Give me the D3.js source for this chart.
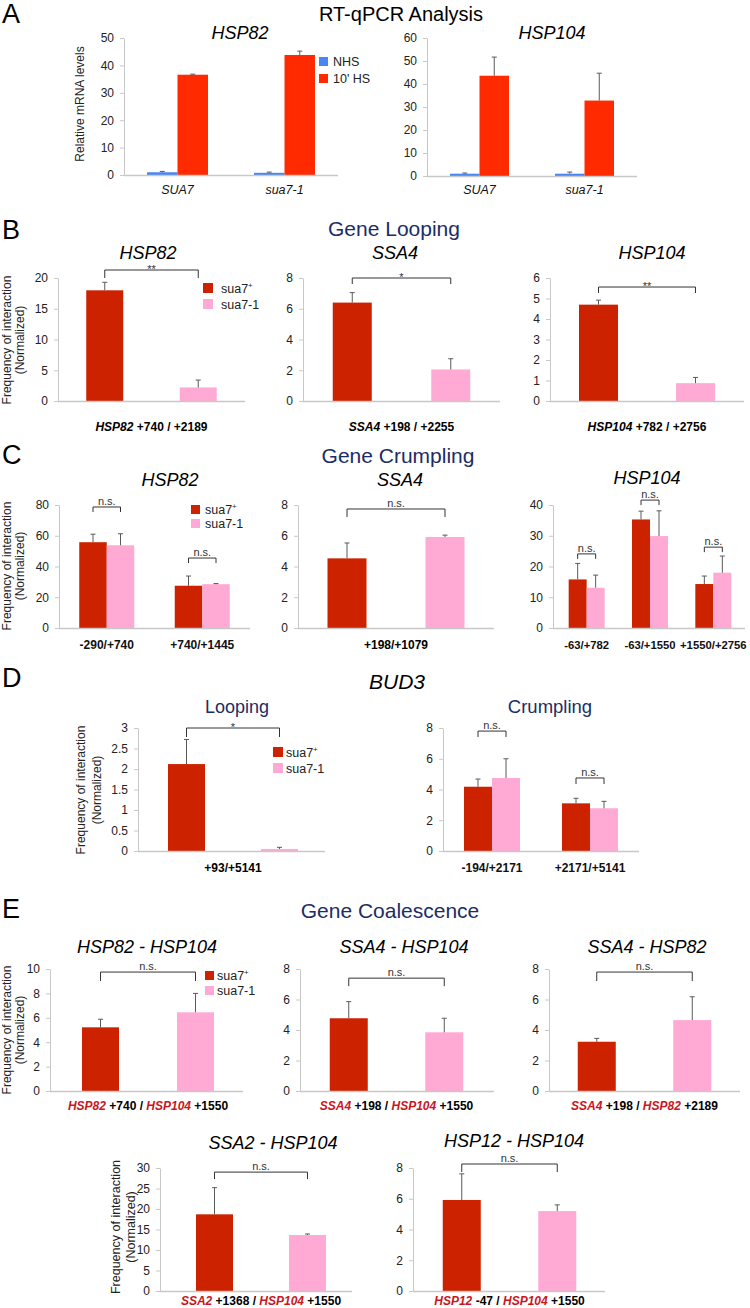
<!DOCTYPE html>
<html><head><meta charset="utf-8">
<script src="https://cdn.jsdelivr.net/npm/d3@7"></script>
<style>body{margin:0;background:#fff} svg{display:block} text{font-family:"Liberation Sans",Arial,Helvetica,sans-serif}</style>
</head><body><svg id="fig" width="750" height="1308"></svg>
<script>
// ================= DATA =================
// A: RT-qPCR
const rtCategories = ["SUA7", "sua7-1"];
const rtSeries = ["NHS", "10' HS"];
const rtHsp82NHS = [1.0, 0.8];
const rtHsp82NHSErr = [0.3, 0.25];
const rtHsp82HS = [36.6, 43.8];
const rtHsp82HSErr = [0.2, 1.4];
const rtHsp104NHS = [1.0, 1.0];
const rtHsp104NHSErr = [0.3, 0.7];
const rtHsp104HS = [43.6, 32.8];
const rtHsp104HSErr = [8.1, 11.9];
const rtHsp82Ticks = [0, 10, 20, 30, 40, 50];
const rtHsp104Ticks = [0, 10, 20, 30, 40, 50, 60];

const strains = ["sua7+", "sua7-1"];

// B: Gene looping (values for [sua7+, sua7-1])
const loopHsp82 = [18.0, 2.2], loopHsp82Err = [1.3, 1.2];
const loopSsa4 = [6.4, 2.05], loopSsa4Err = [0.65, 0.7];
const loopHsp104 = [4.7, 0.87], loopHsp104Err = [0.22, 0.28];
const loopHsp82Ticks = [0, 5, 10, 15, 20];
const loopSsa4Ticks = [0, 2, 4, 6, 8];
const loopHsp104Ticks = [0, 1, 2, 3, 4, 5, 6];

// C: Gene crumpling
const crHsp82Cats = ["-290/+740", "+740/+1445"];
const crHsp82Wt = [55.8, 27.5], crHsp82WtErr = [5.2, 6.3];
const crHsp82Mut = [53.8, 28.5], crHsp82MutErr = [7.5, 0.4];
const crSsa4 = [4.53, 5.92], crSsa4Err = [1.0, 0.12];
const crHsp104Cats = ["-63/+782", "-63/+1550", "+1550/+2756"];
const crHsp104Wt = [15.8, 35.3, 14.3], crHsp104WtErr = [5.2, 2.7, 2.6];
const crHsp104Mut = [13.1, 29.9, 18.0], crHsp104MutErr = [4.1, 8.2, 5.4];
const crHsp82Ticks = [0, 20, 40, 60, 80];
const crSsa4Ticks = [0, 2, 4, 6, 8];
const crHsp104Ticks = [0, 10, 20, 30, 40];

// D: BUD3
const budLoop = [2.12, 0.05], budLoopErr = [0.6, 0.04];
const budCrCats = ["-194/+2171", "+2171/+5141"];
const budCrWt = [4.18, 3.1], budCrWtErr = [0.5, 0.33];
const budCrMut = [4.75, 2.78], budCrMutErr = [1.25, 0.45];
const budLoopTicks = [0, 0.5, 1, 1.5, 2, 2.5, 3];
const budCrTicks = [0, 2, 4, 6, 8];

// E: Gene coalescence
const coHsp82Hsp104 = [5.22, 6.45], coHsp82Hsp104Err = [0.66, 1.55];
const coSsa4Hsp104 = [4.77, 3.85], coSsa4Hsp104Err = [1.09, 0.92];
const coSsa4Hsp82 = [3.23, 4.65], coSsa4Hsp82Err = [0.22, 1.53];
const coSsa2Hsp104 = [18.7, 13.66], coSsa2Hsp104Err = [6.5, 0.25];
const coHsp12Hsp104 = [5.92, 5.2], coHsp12Hsp104Err = [1.7, 0.4];
const co10Ticks = [0, 2, 4, 6, 8, 10];
const co8Ticks = [0, 2, 4, 6, 8];
const co30Ticks = [0, 5, 10, 15, 20, 25, 30];

// Significance labels
const sigLoop = ["**", "*", "**"];
const sigBudLoop = "*";
const ns = "n.s.";

// ================= STYLE =================
const C_NHS = "#4a86f2", C_HS = "#ff2a00";
const C_WT = "#cc2200", C_MUT = "#ffaad4";
const NAVY = "#1c2d66", AXIS = "#c8c8c8", ERR = "#5a5a5a", GENE_RED = "#c8161d";

const svg = d3.select("#fig");

function txt(x, y, s, o = {}) {
  const t = svg.append("text").attr("x", x).attr("y", y).text(s)
    .attr("font-size", o.size || 12).attr("text-anchor", o.anchor || "middle")
    .attr("fill", o.fill || "#000");
  if (o.italic) t.attr("font-style", "italic");
  if (o.bold) t.attr("font-weight", "bold");
  return t;
}
function rich(x, y, parts, size) {
  const t = svg.append("text").attr("x", x).attr("y", y).attr("text-anchor", "middle")
    .attr("font-size", size).attr("font-weight", "bold").attr("fill", "#000");
  parts.forEach(p => {
    const ts = t.append("tspan").text(p.t);
    if (p.gene) ts.attr("font-style", "italic");
    if (p.red) ts.attr("fill", GENE_RED);
  });
}
function ylabel(xs, yc, lines, size) {
  lines.forEach((l, i) => {
    svg.append("text").attr("transform", `translate(${xs[i]},${yc}) rotate(-90)`)
      .attr("text-anchor", "middle").attr("font-size", size).attr("fill", "#222").text(l);
  });
}
function legend(x, y0, gap, sz, tx, items) {
  items.forEach((it, i) => {
    svg.append("rect").attr("x", x).attr("y", y0 + i * gap).attr("width", sz).attr("height", sz).attr("fill", it.color);
    const t = svg.append("text").attr("x", tx).attr("y", y0 + i * gap + sz - 0.5).attr("font-size", 12.5).attr("fill", "#222");
    if (it.sup) {
      t.append("tspan").text(it.label.replace("+", ""));
      t.append("tspan").text("+").attr("font-size", 8).attr("dy", -5);
    } else t.text(it.label);
  });
}

function groupedBars(cats, series) {
  const out = [];
  cats.forEach((c, ci) => series.forEach((s, si) => out.push({ key: c, i: si, n: series.length, v: s.v[ci], e: s.e[ci], color: s.color })));
  return out;
}
function separateBars(vals, errs) {
  return strains.map((s, i) => ({ key: s, i: 0, n: 1, v: vals[i], e: errs[i], color: i === 0 ? C_WT : C_MUT }));
}

function chart(c) {
  const y = d3.scaleLinear().domain([0, c.max]).range([c.yb, c.yt]);
  const band = d3.scaleBand().domain(c.domain).range([c.bx0 ?? c.x0, c.bx1 ?? c.x1]);
  const g = svg.append("g");
  const cx = b => band(b.key) + band.bandwidth() / 2 + (b.i - (b.n - 1) / 2) * c.barW;

  g.selectAll("rect.bar").data(c.bars).join("rect").attr("class", "bar")
    .attr("x", b => cx(b) - c.barW / 2).attr("width", c.barW)
    .attr("y", b => y(b.v)).attr("height", b => c.yb - y(b.v)).attr("fill", b => b.color);

  const eg = g.append("g").attr("stroke", ERR).attr("stroke-width", 1);
  eg.selectAll("line.ev").data(c.bars).join("line").attr("class", "ev")
    .attr("x1", cx).attr("x2", cx).attr("y1", b => y(b.v)).attr("y2", b => y(b.v + b.e));
  eg.selectAll("line.ec").data(c.bars).join("line").attr("class", "ec")
    .attr("x1", b => cx(b) - 2.5).attr("x2", b => cx(b) + 2.5).attr("y1", b => y(b.v + b.e)).attr("y2", b => y(b.v + b.e));

  g.append("line").attr("x1", c.x0).attr("x2", c.x1).attr("y1", c.yb + 0.5).attr("y2", c.yb + 0.5)
    .attr("stroke", AXIS).attr("stroke-width", 1.5);

  const ya = g.append("g").attr("transform", `translate(${c.x0},0)`)
    .call(d3.axisLeft(y).tickValues(c.ticks).tickSize(4).tickSizeOuter(0).tickPadding(6).tickFormat(d3.format("~g")));
  ya.attr("font-family", null);
  ya.select(".domain").attr("stroke", AXIS);
  ya.selectAll(".tick line").attr("stroke", AXIS);
  ya.selectAll(".tick text").attr("font-size", 12).attr("fill", "#222");

  (c.brackets || []).forEach(br => {
    const xa = cx(br.a), xb = cx(br.b), yy = y(br.level), leg = br.leg || 7;
    g.append("path").attr("d", `M${xa},${yy + leg}V${yy}H${xb}V${yy + leg}`)
      .attr("fill", "none").attr("stroke", "#333").attr("stroke-width", 1);
    const star = br.text.startsWith("*");
    g.append("text").attr("x", (xa + xb) / 2).attr("y", star ? yy + 3 : yy - 2)
      .attr("text-anchor", "middle").attr("font-size", 11).attr("fill", "#333").text(br.text);
  });

  if (c.catLabels) {
    c.domain.forEach(d => {
      txt(band(d) + band.bandwidth() / 2, c.labelY, d, { size: c.catSize || 12, italic: c.catItalic, bold: !c.catItalic, fill: "#111" });
    });
  }
  if (c.rich) rich(((c.bx0 ?? c.x0) + (c.bx1 ?? c.x1)) / 2, c.labelY, c.rich, 12);
  return { y, band, cx };
}
const sep = () => ({ a: { key: strains[0], i: 0, n: 1 }, b: { key: strains[1], i: 0, n: 1 } });
const grp = (cat) => ({ a: { key: cat, i: 0, n: 2 }, b: { key: cat, i: 1, n: 2 } });

// ================= PANEL A =================
txt(2, 23, "A", { size: 27, anchor: "start" });
txt(401, 21, "RT-qPCR Analysis", { size: 20 });
txt(240, 39, "HSP82", { size: 18, italic: true });
txt(552, 39, "HSP104", { size: 18, italic: true });
ylabel([84], 104, ["Relative mRNA levels"], 12);
chart({ x0: 124, x1: 338, yb: 175, yt: 38, max: 50, ticks: rtHsp82Ticks, domain: rtCategories, barW: 30.5,
  bars: groupedBars(rtCategories, [{ v: rtHsp82NHS, e: rtHsp82NHSErr, color: C_NHS }, { v: rtHsp82HS, e: rtHsp82HSErr, color: C_HS }]),
  catLabels: true, catItalic: true, catSize: 12.5, labelY: 194 });
chart({ x0: 427, x1: 637, yb: 176, yt: 38, max: 60, ticks: rtHsp104Ticks, domain: rtCategories, barW: 29.5,
  bars: groupedBars(rtCategories, [{ v: rtHsp104NHS, e: rtHsp104NHSErr, color: C_NHS }, { v: rtHsp104HS, e: rtHsp104HSErr, color: C_HS }]),
  catLabels: true, catItalic: true, catSize: 12.5, labelY: 194 });
legend(319, 57, 17, 9, 333, [{ label: rtSeries[0], color: C_NHS }, { label: rtSeries[1], color: C_HS }]);

// ================= PANEL B =================
txt(2, 239, "B", { size: 27, anchor: "start" });
txt(394, 236, "Gene Looping", { size: 21, fill: NAVY });
txt(148, 259, "HSP82", { size: 18, italic: true });
txt(395, 259, "SSA4", { size: 18, italic: true });
txt(652, 259, "HSP104", { size: 18, italic: true });
ylabel([11, 24], 340, ["Frequency of interaction", "(Normalized)"], 12);
chart({ x0: 58, x1: 245, yb: 401, yt: 278, max: 20, ticks: loopHsp82Ticks, domain: strains, barW: 37,
  bars: separateBars(loopHsp82, loopHsp82Err), brackets: [{ ...sep(), level: 21.3, leg: 8, text: sigLoop[0] }],
  rich: [{ t: "HSP82", gene: true }, { t: "  +740 / +2189" }], labelY: 431 });
chart({ x0: 303, x1: 500, yb: 401, yt: 278, max: 8, ticks: loopSsa4Ticks, domain: strains, barW: 39,
  bars: separateBars(loopSsa4, loopSsa4Err), brackets: [{ ...sep(), level: 8.0, leg: 6, text: sigLoop[1] }],
  rich: [{ t: "SSA4", gene: true }, { t: "  +198 / +2255" }], labelY: 431 });
chart({ x0: 550, x1: 744, yb: 401, yt: 278, max: 6, ticks: loopHsp104Ticks, domain: strains, barW: 39,
  bars: separateBars(loopHsp104, loopHsp104Err), brackets: [{ ...sep(), level: 5.56, leg: 6, text: sigLoop[2] }],
  rich: [{ t: "HSP104", gene: true }, { t: " +782 / +2756" }], labelY: 431 });
legend(203, 283, 16, 10, 221, [{ label: strains[0], color: C_WT, sup: true }, { label: strains[1], color: C_MUT }]);

// ================= PANEL C =================
txt(2, 464, "C", { size: 27, anchor: "start" });
txt(398, 463, "Gene Crumpling", { size: 21, fill: NAVY });
txt(170, 486, "HSP82", { size: 18, italic: true });
txt(400, 486, "SSA4", { size: 18, italic: true });
txt(647, 484, "HSP104", { size: 18, italic: true });
ylabel([11, 24], 566, ["Frequency of interaction", "(Normalized)"], 12);
chart({ x0: 59, x1: 250, yb: 628, yt: 505, max: 80, ticks: crHsp82Ticks, domain: crHsp82Cats, barW: 27.5,
  bars: groupedBars(crHsp82Cats, [{ v: crHsp82Wt, e: crHsp82WtErr, color: C_WT }, { v: crHsp82Mut, e: crHsp82MutErr, color: C_MUT }]),
  brackets: [{ ...grp(crHsp82Cats[0]), level: 78.7, leg: 5, text: ns }, { ...grp(crHsp82Cats[1]), level: 45.5, leg: 5, text: ns }],
  catLabels: true, labelY: 649 });
chart({ x0: 298, x1: 494, yb: 628, yt: 505, max: 8, ticks: crSsa4Ticks, domain: strains, barW: 39,
  bars: separateBars(crSsa4, crSsa4Err), brackets: [{ ...sep(), level: 7.74, leg: 8, text: ns }],
  rich: [{ t: "+198/+1079" }], labelY: 649 });
chart({ x0: 553, x1: 745, bx0: 555, bx1: 745, yb: 628, yt: 505, max: 40, ticks: crHsp104Ticks, domain: crHsp104Cats, barW: 18,
  bars: groupedBars(crHsp104Cats, [{ v: crHsp104Wt, e: crHsp104WtErr, color: C_WT }, { v: crHsp104Mut, e: crHsp104MutErr, color: C_MUT }]),
  brackets: [{ ...grp(crHsp104Cats[0]), level: 24.1, leg: 5, text: ns }, { ...grp(crHsp104Cats[1]), level: 41.6, leg: 5, text: ns },
             { ...grp(crHsp104Cats[2]), level: 26.3, leg: 5, text: ns }],
  catLabels: true, catSize: 11.3, labelY: 649 });
legend(191, 505, 14, 9, 205, [{ label: strains[0], color: C_WT, sup: true }, { label: strains[1], color: C_MUT }]);

// ================= PANEL D =================
txt(2, 687, "D", { size: 27, anchor: "start" });
txt(397, 689, "BUD3", { size: 21, italic: true });
txt(237, 713, "Looping", { size: 18, fill: NAVY });
txt(550, 713, "Crumpling", { size: 18.5, fill: NAVY });
ylabel([85, 101], 790, ["Frequency of interaction", "(Normalized)"], 12);
chart({ x0: 138, x1: 325, bx0: 140, bx1: 326, yb: 851, yt: 728, max: 3, ticks: budLoopTicks, domain: strains, barW: 37,
  bars: separateBars(budLoop, budLoopErr), brackets: [{ ...sep(), level: 3.0, leg: 9, text: sigBudLoop }],
  rich: [{ t: "+93/+5141" }], labelY: 872 });
chart({ x0: 443, x1: 639, yb: 851, yt: 728, max: 8, ticks: budCrTicks, domain: budCrCats, barW: 28,
  bars: groupedBars(budCrCats, [{ v: budCrWt, e: budCrWtErr, color: C_WT }, { v: budCrMut, e: budCrMutErr, color: C_MUT }]),
  brackets: [{ ...grp(budCrCats[0]), level: 7.8, leg: 6, text: ns }, { ...grp(budCrCats[1]), level: 4.75, leg: 6, text: ns }],
  catLabels: true, labelY: 872 });
legend(273, 747, 16, 10, 286, [{ label: strains[0], color: C_WT, sup: true }, { label: strains[1], color: C_MUT }]);

// ================= PANEL E =================
txt(2, 918, "E", { size: 27, anchor: "start" });
txt(390, 918, "Gene Coalescence", { size: 21, fill: NAVY });
txt(147, 953, "HSP82 - HSP104", { size: 18, italic: true });
txt(404, 953, "SSA4 - HSP104", { size: 18, italic: true });
txt(647, 953, "SSA4 - HSP82", { size: 18, italic: true });
txt(273, 1149, "SSA2 - HSP104", { size: 18, italic: true });
txt(514, 1147, "HSP12 - HSP104", { size: 18, italic: true });
ylabel([11, 24], 1030, ["Frequency of interaction", "(Normalized)"], 12);
ylabel([120, 135], 1227, ["Frequency of interaction", "(Normalized)"], 12.5);
chart({ x0: 50, x1: 243, bx0: 53, bx1: 243, yb: 1091, yt: 969, max: 10, ticks: co10Ticks, domain: strains, barW: 37,
  bars: separateBars(coHsp82Hsp104, coHsp82Hsp104Err), brackets: [{ ...sep(), level: 9.75, leg: 9, text: ns }],
  rich: [{ t: "HSP82", gene: true, red: true }, { t: " +740 / " }, { t: "HSP104", gene: true, red: true }, { t: " +1550" }], labelY: 1110 });
chart({ x0: 300, x1: 494, bx0: 301, bx1: 492, yb: 1091, yt: 969, max: 8, ticks: co8Ticks, domain: strains, barW: 38,
  bars: separateBars(coSsa4Hsp104, coSsa4Hsp104Err), brackets: [{ ...sep(), level: 7.4, leg: 8, text: ns }],
  rich: [{ t: "SSA4", gene: true, red: true }, { t: " +198 / " }, { t: "HSP104", gene: true, red: true }, { t: " +1550" }], labelY: 1110 });
chart({ x0: 549, x1: 740, yb: 1091, yt: 969, max: 8, ticks: co8Ticks, domain: strains, barW: 38,
  bars: separateBars(coSsa4Hsp82, coSsa4Hsp82Err), brackets: [{ ...sep(), level: 7.8, leg: 9, text: ns }],
  rich: [{ t: "SSA4", gene: true, red: true }, { t: " +198 / " }, { t: "HSP82", gene: true, red: true }, { t: " +2189" }], labelY: 1110 });
chart({ x0: 160, x1: 352, bx0: 168, bx1: 354, yb: 1291, yt: 1168, max: 30, ticks: co30Ticks, domain: strains, barW: 37,
  bars: separateBars(coSsa2Hsp104, coSsa2Hsp104Err), brackets: [{ ...sep(), level: 29.0, leg: 7, text: ns }],
  rich: [{ t: "SSA2", gene: true, red: true }, { t: " +1368 / " }, { t: "HSP104", gene: true, red: true }, { t: " +1550" }], labelY: 1305 });
chart({ x0: 413, x1: 605, bx0: 414, bx1: 605, yb: 1291, yt: 1168, max: 8, ticks: co8Ticks, domain: strains, barW: 38,
  bars: separateBars(coHsp12Hsp104, coHsp12Hsp104Err), brackets: [{ ...sep(), level: 8.26, leg: 8, text: ns }],
  rich: [{ t: "HSP12", gene: true, red: true }, { t: " -47 / " }, { t: "HSP104", gene: true, red: true }, { t: " +1550" }], labelY: 1305 });
legend(205, 971, 15, 9, 217, [{ label: strains[0], color: C_WT, sup: true }, { label: strains[1], color: C_MUT }]);
</script></body></html>
